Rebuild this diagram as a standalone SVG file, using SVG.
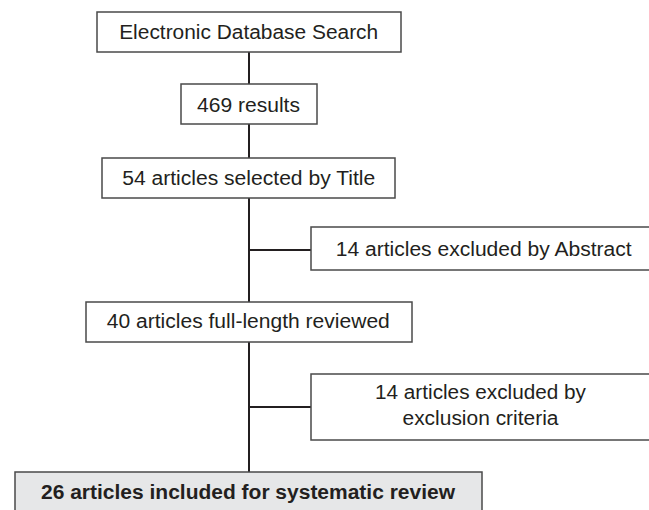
<svg xmlns="http://www.w3.org/2000/svg" width="649" height="510" viewBox="0 0 649 510">
<style>
.box{fill:#ffffff;stroke:#4a4a4a;stroke-width:1.5}
.grey{fill:#e6e7e8}
.t{font-family:"Liberation Sans",Arial,Helvetica,sans-serif;font-size:19.5px;fill:#231f20;text-anchor:middle}
.b{font-weight:bold}
.c{stroke:#231f20;stroke-width:2;fill:none}
</style>
<rect width="649" height="510" fill="#ffffff"/>
<g id="connectors">
<line class="c" x1="249" y1="52" x2="249" y2="84"/>
<line class="c" x1="249" y1="124" x2="249" y2="158"/>
<line class="c" x1="249" y1="198" x2="249" y2="302"/>
<line class="c" x1="249" y1="342" x2="249" y2="472"/>
<line class="c" x1="249" y1="250" x2="311" y2="250"/>
<line class="c" x1="249" y1="407" x2="311" y2="407"/>
</g>
<g id="search">
<rect class="box" x="97" y="12" width="304" height="40"/>
<text class="t" x="248.7" y="38.8" textLength="259" lengthAdjust="spacingAndGlyphs">Electronic Database Search</text>
</g>
<g id="results">
<rect class="box" x="181" y="84" width="136" height="40"/>
<text class="t" x="248.5" y="111.5" textLength="103" lengthAdjust="spacingAndGlyphs">469 results</text>
</g>
<g id="title">
<rect class="box" x="102" y="158" width="293" height="40"/>
<text class="t" x="248.7" y="184.6" textLength="253" lengthAdjust="spacingAndGlyphs">54 articles selected by Title</text>
</g>
<g id="abstract">
<rect class="box" x="311" y="227" width="345" height="43"/>
<text class="t" x="483.7" y="255.8" textLength="296" lengthAdjust="spacingAndGlyphs">14 articles excluded by Abstract</text>
</g>
<g id="fulllength">
<rect class="box" x="86" y="302" width="326" height="40"/>
<text class="t" x="248.3" y="328" textLength="283" lengthAdjust="spacingAndGlyphs">40 articles full-length reviewed</text>
</g>
<g id="criteria">
<rect class="box" x="311" y="374" width="345" height="66"/>
<text class="t" x="480.5" y="399.3" textLength="211" lengthAdjust="spacingAndGlyphs">14 articles excluded by</text>
<text class="t" x="480.5" y="424.5" textLength="156" lengthAdjust="spacingAndGlyphs">exclusion criteria</text>
</g>
<g id="included">
<rect class="box grey" x="15" y="472" width="467" height="45"/>
<text class="t b" x="248" y="498.5" textLength="414" lengthAdjust="spacingAndGlyphs">26 articles included for systematic review</text>
</g>
</svg>
